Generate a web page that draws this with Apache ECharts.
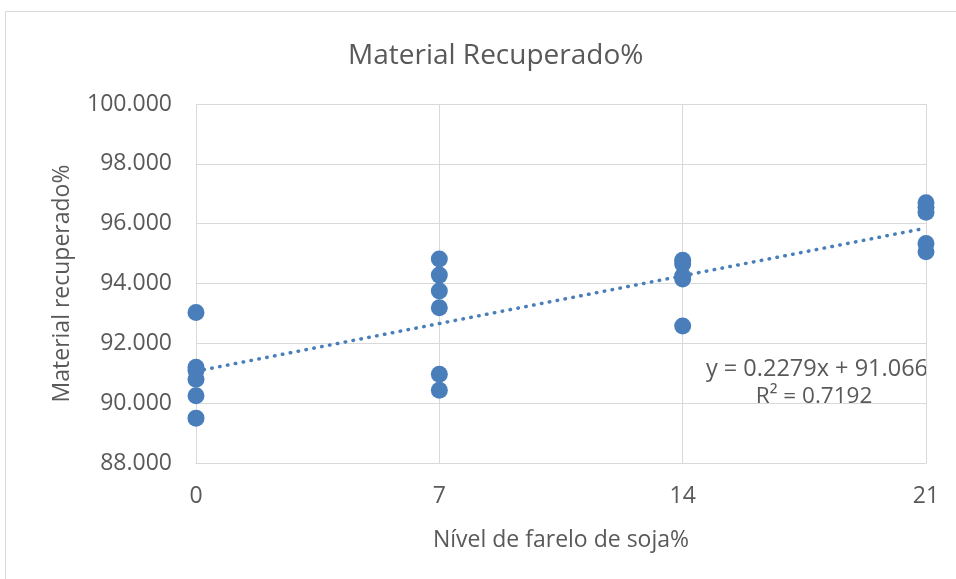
<!DOCTYPE html>
<html>
<head>
<meta charset="utf-8">
<script src="https://cdn.jsdelivr.net/npm/echarts@6/dist/echarts.min.js"></script>
<style>html,body{margin:0;padding:0;background:#fff}#c{width:956px;height:579px}</style>
</head>
<body>
<div id="c"></div>
<script>
const xTicks = [0, 7, 14, 21];
const xLevel0 = [93.03, 91.20, 91.10, 90.80, 90.25, 89.50];
const xLevel7 = [94.82, 94.28, 93.75, 93.19, 90.97, 90.43];
const xLevel14 = [94.78, 94.65, 94.25, 94.15, 92.58];
const xLevel21 = [96.70, 96.55, 96.38, 95.34, 95.06];
const trendSlope = 0.2279;
const trendIntercept = 91.066;
const rSquared = 0.7192;

const groups = [xLevel0, xLevel7, xLevel14, xLevel21];
const points = [];
groups.forEach((g, i) => g.forEach(v => points.push([xTicks[i], v])));
const trend = [[0, trendIntercept], [21, trendIntercept + trendSlope * 21]];

const font = '"Open Sans", "Liberation Sans", sans-serif';
const txt = '#595959';
const blue = '#4a7ebb';

const chart = echarts.init(document.getElementById('c'), null, {renderer: 'canvas'});
chart.setOption({
  animation: false,
  textStyle: {fontFamily: font},
  title: {
    text: 'Material Recuperado%',
    left: 343, top: 37,
    textStyle: {fontFamily: font, fontSize: 28, fontWeight: 'normal', color: txt}
  },
  graphic: [
    {type: 'rect', shape: {x: 5.5, y: 11.5, width: 960, height: 600}, style: {fill: 'none', stroke: '#d9d9d9', lineWidth: 1}, silent: true},
    {type: 'text', x: 928, y: 369, style: {text: 'y = ' + trendSlope + 'x + ' + trendIntercept, font: '23.5px ' + font, fill: txt, align: 'right', verticalAlign: 'middle'}},
    {type: 'text', x: 814, y: 397, style: {text: 'R² = ' + rSquared, font: '22.5px ' + font, fill: txt, align: 'center', verticalAlign: 'middle'}}
  ],
  grid: {left: 196, right: 30, top: 104, bottom: 116, containLabel: false},
  xAxis: {
    type: 'value', min: 0, max: 21, interval: 7,
    name: 'Nível de farelo de soja%', nameLocation: 'middle', nameGap: 66,
    nameTextStyle: {fontSize: 23, color: txt, fontFamily: font},
    axisLine: {show: true, lineStyle: {color: '#d9d9d9'}},
    axisTick: {show: false},
    axisLabel: {fontSize: 23, color: txt, margin: 22, fontFamily: font},
    splitLine: {show: true, lineStyle: {color: '#d9d9d9', width: 1}}
  },
  yAxis: {
    type: 'value', min: 88, max: 100, interval: 2,
    name: 'Material recuperado%', nameLocation: 'middle', nameGap: 122, nameRotate: 90,
    nameTextStyle: {fontSize: 23, color: txt, fontFamily: font},
    axisLine: {show: false},
    axisTick: {show: false},
    axisLabel: {fontSize: 23, color: txt, margin: 24, fontFamily: font, formatter: v => v.toFixed(3)},
    splitLine: {show: true, lineStyle: {color: '#d9d9d9', width: 1}}
  },
  series: [
    {
      type: 'line', data: trend, showSymbol: false, symbol: 'none',
      lineStyle: {color: blue, width: 3.5, type: [0.5, 7.5], cap: 'round'}, z: 2, silent: true
    },
    {
      type: 'scatter', data: points, symbol: 'circle', symbolSize: 17,
      itemStyle: {color: blue, opacity: 1}, z: 3
    }
  ]
});
</script>
</body>
</html>
